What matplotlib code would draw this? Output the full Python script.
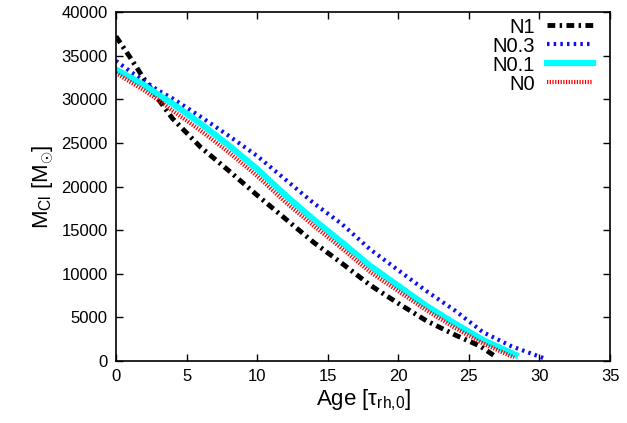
import matplotlib
matplotlib.use("Agg")
import matplotlib.pyplot as plt

# Cluster mass vs age for the four runs
age_n1 = [0, 1, 2, 3, 4, 6, 8, 10, 12, 14, 16, 18, 20, 22, 24, 25.8, 26.8]
mass_n1 = [37200, 34800, 32300, 30000, 27800, 24500, 21800, 19000, 16300,
           13600, 11200, 8700, 6600, 4600, 3000, 1700, 600]

age_n03 = [0, 1, 2, 3, 4, 6, 8, 10, 12, 14, 16, 18, 20, 22, 24, 26, 28, 30.5]
mass_n03 = [34400, 33200, 32100, 31000, 30100, 28000, 25800, 23500, 20800,
            18100, 15700, 12800, 10400, 8000, 5800, 3300, 1700, 200]

age_n01 = [0, 1, 2, 3, 4, 6, 8, 10, 12, 14, 16, 18, 20, 22, 24, 26, 28.3]
mass_n01 = [33400, 32500, 31600, 30500, 29500, 27200, 24700, 22000, 19000,
            16200, 13600, 10900, 8600, 6300, 4300, 2400, 700]

age_n0 = [0, 1, 2, 3, 4, 6, 8, 10, 12, 14, 16, 18, 20, 22, 24, 26, 28.2]
mass_n0 = [33000, 32000, 31000, 29900, 28700, 26400, 23900, 21200, 18200,
           15500, 12900, 10200, 8000, 5800, 3800, 2000, 400]

labels = ["N1", "N0.3", "N0.1", "N0"]
x_ticks = list(range(0, 36, 5))
y_ticks = list(range(0, 40001, 5000))

plt.rcParams["font.family"] = ["Liberation Sans", "DejaVu Sans"]
plt.rcParams["mathtext.fontset"] = "custom"
plt.rcParams["mathtext.rm"] = "Liberation Sans"
plt.rcParams["mathtext.it"] = "Liberation Sans"

fig = plt.figure(figsize=(6.27, 4.23), dpi=100)
ax = fig.add_axes([0.185, 0.1466, 0.788, 0.825])

ax.plot(age_n1, mass_n1, color="black", lw=3.5,
        linestyle=(0, (1.6, 0.9, 0.5, 0.9)), label=labels[0])
ax.plot(age_n03, mass_n03, color="#1010ee", lw=3,
        linestyle=(0, (0.6, 1.0)), label=labels[1])
ax.plot(age_n01, mass_n01, color="cyan", lw=4.5,
        linestyle="-", label=labels[2])
ax.plot(age_n0, mass_n0, color="red", lw=3,
        linestyle=(0, (0.3, 0.35)), label=labels[3])

ax.set_xlim(0, 35)
ax.set_ylim(0, 40000)
ax.set_xticks(x_ticks)
ax.set_yticks(y_ticks)
ax.tick_params(direction="in", length=5, width=1, top=True, right=True,
               labelsize=12, pad=6)
for s in ax.spines.values():
    s.set_linewidth(1.2)

ax.set_xlabel(r"Age [$\mathrm{\tau_{rh{,}0}}$]", fontsize=16, labelpad=2)
ax.set_ylabel(r"M$_{\mathrm{Cl}}$ [M$_{\odot}$]", fontsize=16, labelpad=4)

ax.legend(loc="upper right", frameon=False, markerfirst=False,
          fontsize=14.5, handlelength=2.3, handletextpad=0.6,
          labelspacing=0.0, borderaxespad=0.0, borderpad=0.1,
          bbox_to_anchor=(0.97, 0.99))

plt.savefig("out.png", dpi=100)
